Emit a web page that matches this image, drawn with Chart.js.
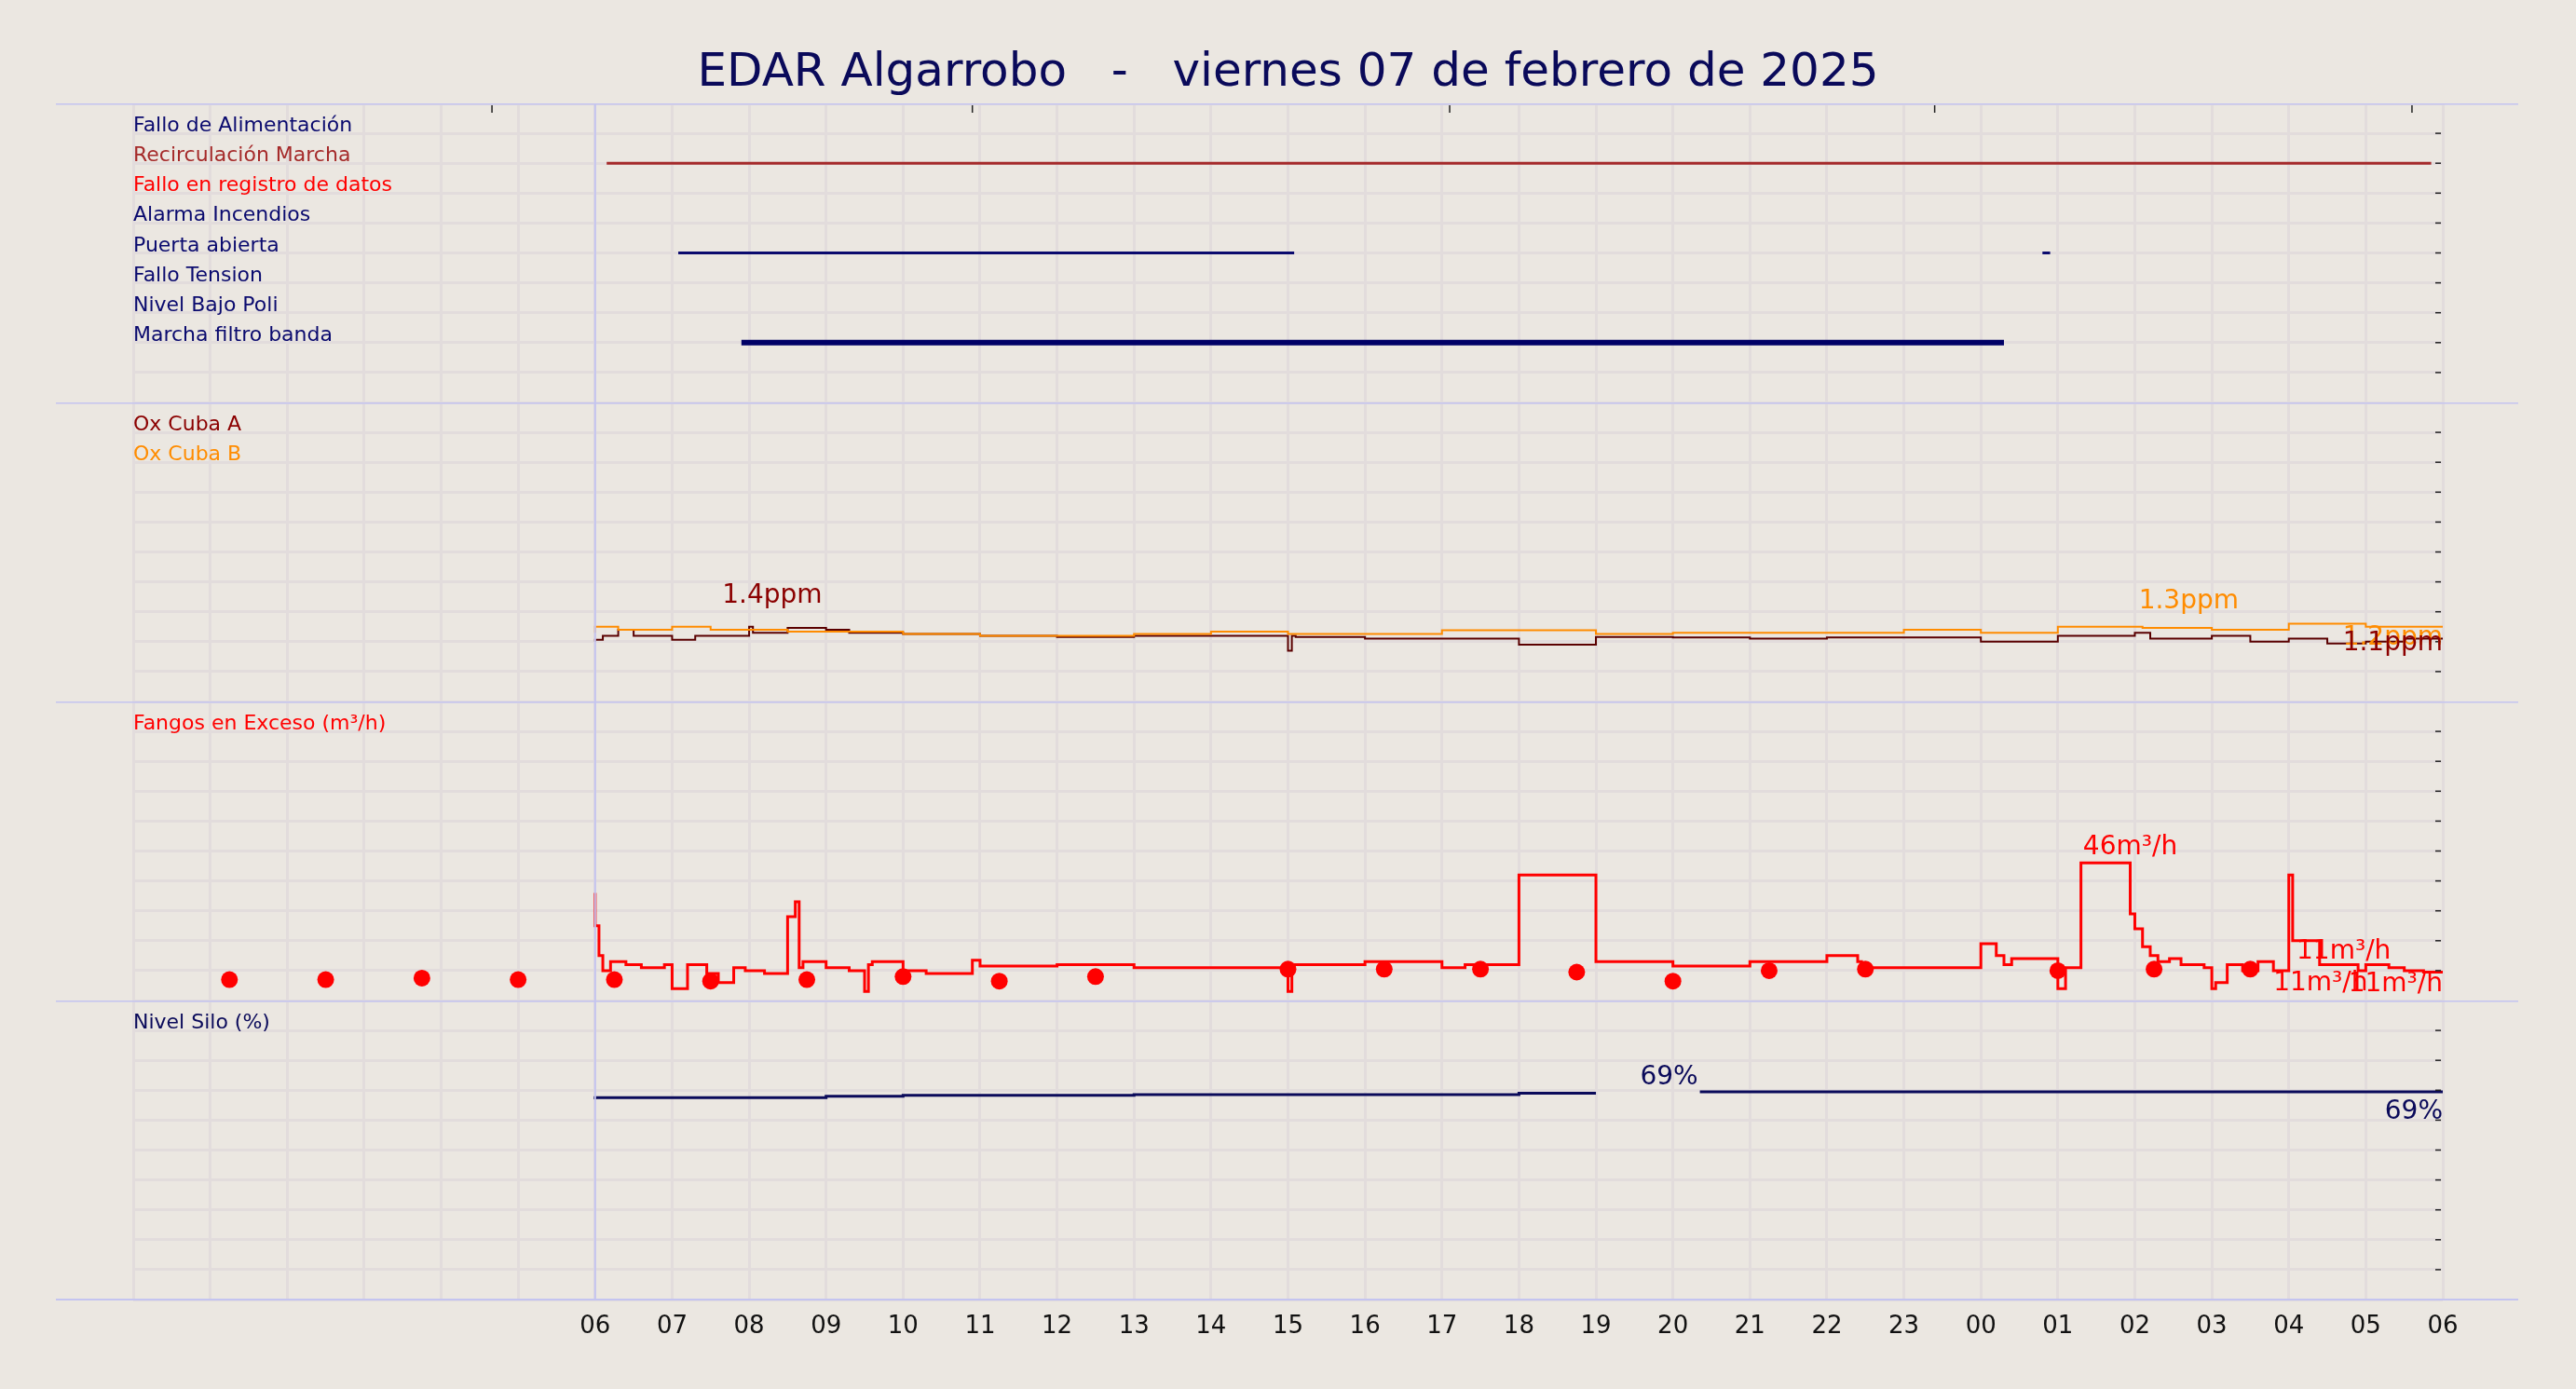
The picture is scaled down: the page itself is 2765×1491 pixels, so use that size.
<!DOCTYPE html>
<html><head><meta charset="utf-8">
<script src="https://cdn.jsdelivr.net/npm/chart.js@4"></script>
<style>
html,body{margin:0;padding:0;background:#ebe7e1;width:2765px;height:1491px;overflow:hidden;font-family:"DejaVu Sans",sans-serif}
#title{position:absolute;top:46px;left:0;width:2765px;text-align:center;font-size:50px;color:#0a0a5a;white-space:pre}
canvas{position:absolute;left:0}
</style></head><body>
<div id="title">EDAR Algarrobo   -   viernes 07 de febrero de 2025</div>
<canvas id="c0" width="2765" height="321" style="top:111px"></canvas>
<canvas id="c1" width="2765" height="321" style="top:432px"></canvas>
<canvas id="c2" width="2765" height="321" style="top:753px"></canvas>
<canvas id="c3" width="2765" height="381" style="top:1074px"></canvas>
<script>
// ---- data ----
const laneLabels = ["Fallo de Alimentación","Recirculación Marcha","Fallo en registro de datos","Alarma Incendios","Puerta abierta","Fallo Tension","Nivel Bajo Poli","Marcha filtro banda"];
const laneColors = ["#0a0a6e","#a52a2a","#ff0000","#0a0a6e","#0a0a6e","#0a0a6e","#0a0a6e","#0a0a6e"];
const laneValues = [9,8,7,6,5,4,3,2];
const recircOn = [[6.15,29.85]];
const puertaOn = [[7.08,15.08],[24.8,24.9]];
const filtroOn = [[7.9,24.3]];

const oxAHours = [6.0,6.1,6.3,6.5,7.0,7.3,8.0,8.05,8.5,9.0,9.3,10,11,12,13,14,15,15.05,15.1,16,17,18,19,20,21,22,23,24,25,25.1,26,26.2,27,27.5,28,28.5,29,29.5,30];
const oxAValues = [1.0,1.03,1.1,1.2,1.1,1.03,1.1,1.25,1.15,1.23,1.2,1.15,1.13,1.1,1.08,1.1,1.1,0.85,1.1,1.08,1.05,1.05,0.95,1.08,1.07,1.05,1.07,1.07,1.0,1.1,1.1,1.15,1.05,1.1,1.0,1.05,0.97,1.0,1.05];
const oxBHours = [6.0,6.3,7.0,7.5,8.5,9.0,10,11,12,13,14,15,15.05,16,17,19,20,21,22,23,24,25,26.1,27,28,29,29.5,30];
const oxBValues = [1.15,1.25,1.2,1.25,1.2,1.17,1.17,1.13,1.1,1.1,1.13,1.17,1.13,1.13,1.13,1.19,1.13,1.15,1.15,1.15,1.2,1.15,1.25,1.23,1.2,1.3,1.25,1.25];

const fangHours = [6.0,6.05,6.1,6.2,6.4,6.6,6.9,7.0,7.2,7.45,7.6,7.8,7.95,8.2,8.5,8.6,8.65,8.7,9.0,9.3,9.5,9.55,9.6,10.0,10.3,10.9,11.0,12.0,13.0,14.0,15.0,15.05,15.15,16.0,17.0,17.3,18.0,19.0,20.0,21.0,22.0,22.4,22.45,23.0,24.0,24.2,24.3,24.4,25.0,25.1,25.3,25.94,26.0,26.1,26.2,26.3,26.45,26.6,26.9,27.0,27.05,27.2,27.4,27.6,27.8,28.0,28.05,28.4,28.9,29.0,29.3,29.5,29.75,30.0];
const fangValues = [36,25,15,10,13,12,11,12,4,12,9,6,11,10,9,28,33,11,13,11,10,3,12,13,10,9,13.5,11.5,12,11,11,3,12,12,13,11,12,42,13,11.5,13,15,13,11,11,19,15,12,14,4,11,46,29,24,18,15,13,14,12,11,4,6,12,10,13,10,42,20,12,10,12,11,10,9.5];
const dotHours = [1.25,2.5,3.75,5,6.25,7.5,8.75,10,11.25,12.5,13.75,15,16.25,17.5,18.75,20,21.25,22.5,23.75,25,26.25,27.5];
const dotValues = [7,7,7.5,7,7,6.5,7,8,6.5,8,null,10.5,10.5,10.5,9.5,6.5,10,10.5,null,10,10.5,10.5];

const siloHours = [6.0,9.0,10.0,13.0,18.0,19.0,19.6,20.35,30];
const siloValues = [67,67.5,68,68.3,68.5,69,null,69.5,69.5];

const hourTicks = Array.from({length:31},(_,i)=>i);
const topTickHours = [4.66,10.9,17.1,23.4,29.6];
// annotations: [hour, value, text, color, align]
const oxNotes = [[8.3,1.65,"1.4ppm","#8b0000","center"],[26.7,1.55,"1.3ppm","#ff8c00","center"],[30,0.95,"1.2ppm","#ff8c00","right"],[30,0.85,"1.1ppm","#8b0000","right"]];
const fangNotes = [[25.94,49,"46m³/h","#ff0000","center"],[28.1,14,"11m³/h","#ff0000","left"],[27.8,3.5,"11m³/h","#ff0000","left"],[30,3.2,"11m³/h","#ff0000","right"]];
const siloNotes = [[19.95,72,"69%","#0a0a5a","center"],[30,60.5,"69%","#0a0a5a","right"]];

// ---- helpers ----
const zip=(xs,ys)=>xs.map((x,i)=>({x,y:ys[i]}));
const segs=(on,v)=>{const d=[];on.forEach(([a,b])=>{d.push({x:a,y:v},{x:b,y:v},{x:b,y:null});});return d;};
const FONT='"DejaVu Sans", sans-serif';
const L=143,R=143;
function panelPlugin(opts){return{id:'pp',afterDraw(ch){
  const c=ch.ctx,a=ch.chartArea,xs=ch.scales.x,ys=ch.scales.y;
  c.save();
  c.strokeStyle='#c4c4f0';c.lineWidth=2;
  c.beginPath();c.moveTo(60,a.top+0.5);c.lineTo(2703,a.top+0.5);c.stroke();
  if(opts.bottom){c.beginPath();c.moveTo(60,a.bottom);c.lineTo(2703,a.bottom);c.stroke();}
  const x6=xs.getPixelForValue(6);
  c.beginPath();c.moveTo(x6,a.top);c.lineTo(x6,a.bottom);c.stroke();
  c.strokeStyle='#222';c.lineWidth=1.5;
  for(let i=1;i<10;i++){const y=a.top+(a.bottom-a.top)*i/10;c.beginPath();c.moveTo(a.right-8,y);c.lineTo(a.right-2,y);c.stroke();}
  if(opts.topTicks){topTickHours.forEach(h=>{const x=xs.getPixelForValue(h);c.beginPath();c.moveTo(x,a.top+2);c.lineTo(x,a.top+10);c.stroke();});}
  c.font='22px '+FONT;c.textBaseline='alphabetic';c.textAlign='left';
  (opts.labels||[]).forEach(([t,col,v])=>{c.fillStyle=col;c.fillText(t,L,ys.getPixelForValue(v)-2);});
  c.font='28px '+FONT;
  (opts.notes||[]).forEach(([h,v,t,col,al])=>{c.fillStyle=col;c.textAlign=al;c.fillText(t,xs.getPixelForValue(h),ys.getPixelForValue(v));});
  c.restore();}};}
function make(id,datasets,ymax,opts){
  return new Chart(document.getElementById(id),{type:'line',data:{datasets},
   plugins:[panelPlugin(opts)],
   options:{responsive:false,devicePixelRatio:1,animation:false,
    layout:{autoPadding:false,padding:{left:L,right:R,top:0,bottom:0}},
    plugins:{legend:{display:false},tooltip:{enabled:false}},
    elements:{point:{radius:0}},
    scales:{
     x:{type:'linear',min:0,max:30,afterBuildTicks:s=>{s.ticks=hourTicks.map(v=>({value:v}));},
        afterFit:s=>{s.height=opts.bottom?60:0;},
        grid:{color:'#e2dcdc',lineWidth:3,drawTicks:false},border:{display:false},
        ticks:{display:!!opts.bottom,padding:14,color:'#111',font:{size:26,family:FONT},maxRotation:0,autoSkip:false,
          callback:v=>v>=6?String(v%24).padStart(2,'0'):''}},
     y:{min:0,max:ymax,afterFit:s=>{s.width=0;},
        ticks:{display:false,stepSize:ymax/10,count:11},grid:{color:'#e2dcdc',lineWidth:3,drawTicks:false},border:{display:false}}
    }}});
}
make('c0',[
 {data:segs(recircOn,8),borderColor:'#a52a2a',borderWidth:3,spanGaps:false},
 {data:segs(puertaOn,5),borderColor:'#0a0a6e',borderWidth:3,spanGaps:false},
 {data:segs(filtroOn,2),borderColor:'#000066',borderWidth:6,spanGaps:false}
],10,{topTicks:true,labels:laneLabels.map((t,i)=>[t,laneColors[i],laneValues[i]])});
make('c1',[
 {data:zip(oxBHours,oxBValues),borderColor:'#ff8c00',borderWidth:2,stepped:'after'},
 {data:zip(oxAHours,oxAValues),borderColor:'#5a0000',borderWidth:2,stepped:'after'}
],5,{labels:[["Ox Cuba A","#8b0000",9],["Ox Cuba B","#ff8c00",8]].map(([t,c,v])=>[t,c,v*0.5]),notes:oxNotes});
make('c2',[
 {data:zip(fangHours,fangValues),borderColor:'#ff0000',borderWidth:3,stepped:'after'},
 {data:zip(dotHours,dotValues),showLine:false,pointRadius:9,pointBackgroundColor:'#ff0000',pointBorderWidth:0}
],100,{labels:[["Fangos en Exceso (m³/h)","#ff0000",90]],notes:fangNotes});
make('c3',[
 {data:zip(siloHours,siloValues),borderColor:'#0a0a5a',borderWidth:3,stepped:'after',spanGaps:false}
],100,{bottom:true,labels:[["Nivel Silo (%)","#0a0a5a",90]],notes:siloNotes});
</script></body></html>
